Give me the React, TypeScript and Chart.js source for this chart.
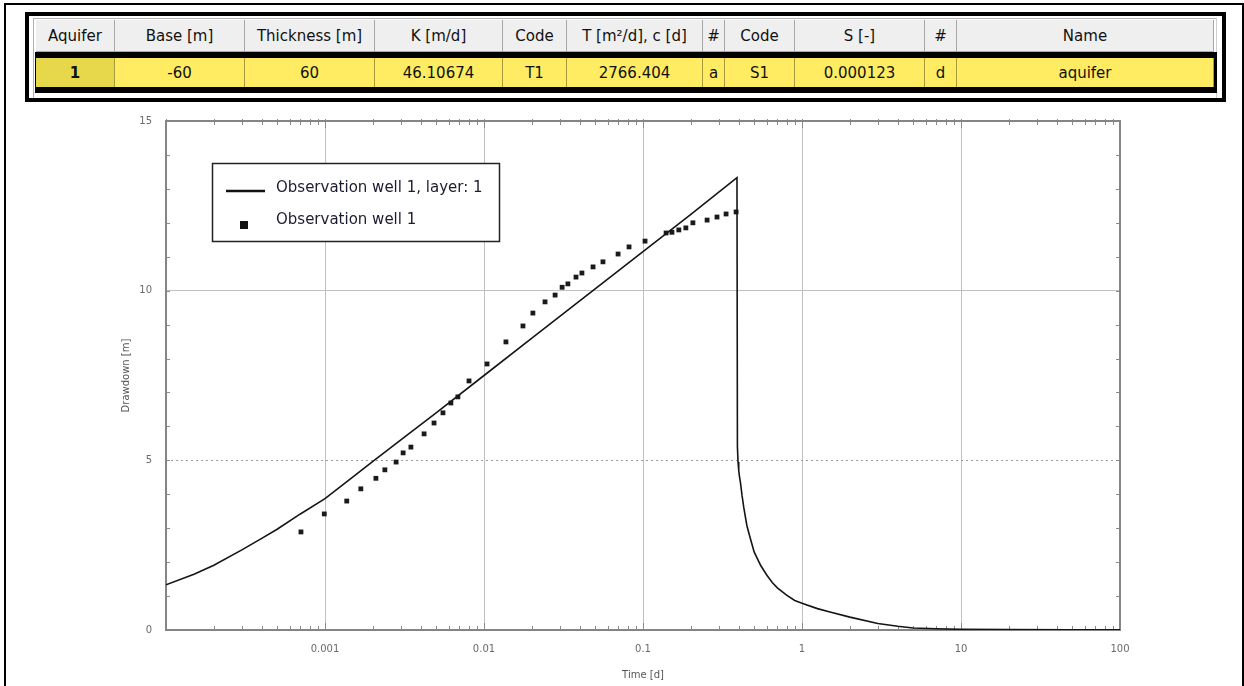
import React, { useEffect, useRef } from 'react';
import { Chart, registerables } from 'chart.js';

Chart.register(...registerables);

const tableHeaders = ['Aquifer', 'Base [m]', 'Thickness [m]', 'K [m/d]', 'Code', 'T [m²/d], c [d]', '#', 'Code', 'S [-]', '#', 'Name'];
const tableRow = ['1', '-60', '60', '46.10674', 'T1', '2766.404', 'a', 'S1', '0.000123', 'd', 'aquifer'];

const seriesLabels = ['Observation well 1, layer: 1', 'Observation well 1'];

const modelTime = [0.0001, 0.00015, 0.0002, 0.0003, 0.0004, 0.0005, 0.0007, 0.001, 0.0015, 0.002, 0.003, 0.005, 0.01, 0.02, 0.05, 0.1, 0.2, 0.39, 0.3925, 0.396, 0.4, 0.405, 0.41, 0.42, 0.43, 0.45, 0.47, 0.5, 0.55, 0.6, 0.65, 0.7, 0.8, 0.9, 1, 1.25, 1.5, 2, 3, 4, 5, 7, 10, 20, 50, 100];
const modelDrawdown = [1.33, 1.64, 1.91, 2.36, 2.7, 2.97, 3.42, 3.87, 4.51, 4.97, 5.6, 6.4, 7.5, 8.6, 10.05, 11.15, 12.25, 13.33, 5.4, 4.95, 4.7, 4.5, 4.35, 3.95, 3.62, 3.08, 2.75, 2.3, 1.9, 1.62, 1.4, 1.24, 1.03, 0.87, 0.79, 0.63, 0.53, 0.38, 0.19, 0.11, 0.06, 0.035, 0.02, 0.012, 0.008, 0.005];

const obsTime = [0.000706, 0.00099, 0.00137, 0.00168, 0.00209, 0.00238, 0.0028, 0.0031, 0.00347, 0.0042, 0.00485, 0.00552, 0.00619, 0.00685, 0.00805, 0.01045, 0.01374, 0.01758, 0.0203, 0.0242, 0.028, 0.031, 0.0337, 0.0379, 0.0413, 0.0485, 0.056, 0.0697, 0.0817, 0.103, 0.1397, 0.152, 0.168, 0.186, 0.206, 0.253, 0.292, 0.333, 0.385];
const obsDrawdown = [2.89, 3.42, 3.8, 4.16, 4.47, 4.72, 4.95, 5.22, 5.39, 5.78, 6.1, 6.4, 6.69, 6.87, 7.34, 7.84, 8.49, 8.96, 9.34, 9.67, 9.87, 10.1, 10.2, 10.4, 10.52, 10.7, 10.85, 11.08, 11.29, 11.46, 11.7, 11.72, 11.79, 11.85, 12.0, 12.08, 12.17, 12.26, 12.32];

const xTickValues = [0.0001, 0.001, 0.01, 0.1, 1, 10, 100];
const xTickLabels = ['', '0.001', '0.01', '0.1', '1', '10', '100'];
const yTickValues = [0, 5, 10, 15];
const yTickLabels = ['0', '5', '10', '15'];

const xTitle = 'Time [d]';
const yTitle = 'Drawdown [m]';

// layout (pixel positions of the grid columns)
const colEdges = [36, 115, 245, 375, 503, 567, 703, 725, 795, 925, 957, 1214];

const FONT = '"DejaVu Sans", Tahoma, sans-serif';

const decorPlugin = {
  id: 'decor',
  beforeDatasetsDraw(chart: any) {
    const { ctx, chartArea: a, scales } = chart;
    const x = scales.x;
    const y = scales.y;
    ctx.save();
    // dotted grid line at 5
    const y5 = Math.round(y.getPixelForValue(5)) + 0.5;
    ctx.strokeStyle = '#9a9a9a';
    ctx.lineWidth = 1;
    ctx.setLineDash([2, 3]);
    ctx.beginPath();
    ctx.moveTo(a.left, y5);
    ctx.lineTo(a.right, y5);
    ctx.stroke();
    ctx.setLineDash([]);
    // minor tick marks
    ctx.strokeStyle = '#8a8a8a';
    ctx.lineWidth = 1;
    ctx.beginPath();
    for (let e = -4; e < 2; e++) {
      for (let m = 1; m < 10; m++) {
        const v = m * Math.pow(10, e);
        const px = Math.round(x.getPixelForValue(v)) + 0.5;
        const len = m === 1 ? 7 : 4;
        ctx.moveTo(px, a.bottom);
        ctx.lineTo(px, a.bottom - len);
        ctx.moveTo(px, a.top - 2);
        ctx.lineTo(px, a.top + len);
      }
    }
    for (let v = 1; v < 15; v++) {
      const py = Math.round(y.getPixelForValue(v)) + 0.5;
      ctx.moveTo(a.left, py);
      ctx.lineTo(a.left + 4, py);
      ctx.moveTo(a.right, py);
      ctx.lineTo(a.right - 4, py);
    }
    ctx.stroke();
    // frame
    ctx.lineWidth = 2;
    ctx.strokeStyle = '#858585';
    ctx.strokeRect(a.left, a.top, a.right - a.left, a.bottom - a.top);
    ctx.restore();
  },
  afterDraw(chart: any) {
    const { ctx, chartArea: a } = chart;
    const bx = a.left + 46;
    const by = a.top + 42;
    const bw = 287;
    const bh = 78;
    ctx.save();
    ctx.fillStyle = '#ffffff';
    ctx.fillRect(bx, by, bw, bh);
    ctx.strokeStyle = '#222';
    ctx.lineWidth = 1.5;
    ctx.strokeRect(bx + 0.5, by + 0.5, bw, bh);
    // line sample
    ctx.strokeStyle = '#111';
    ctx.lineWidth = 2.5;
    ctx.beginPath();
    ctx.moveTo(bx + 14, by + 28);
    ctx.lineTo(bx + 53, by + 28);
    ctx.stroke();
    // square sample
    ctx.fillStyle = '#111';
    ctx.fillRect(bx + 28, by + 58, 8, 8);
    ctx.fillStyle = '#1c1c30';
    ctx.font = '15px ' + FONT;
    ctx.textBaseline = 'middle';
    ctx.textAlign = 'left';
    ctx.fillText(chart.data.datasets[0].label, bx + 64, by + 25);
    ctx.fillText(chart.data.datasets[1].label, bx + 64, by + 57);
    ctx.restore();
  },
};

function ChartCanvas() {
  const ref = useRef<HTMLCanvasElement | null>(null);
  useEffect(() => {
    if (!ref.current) return;
    const chart = new Chart(ref.current, {
      type: 'line',
      data: {
        datasets: [
          {
            label: seriesLabels[0],
            data: modelTime.map((t, i) => ({ x: t, y: modelDrawdown[i] })),
            borderColor: '#151515',
            borderWidth: 1.6,
            pointRadius: 0,
            fill: false,
            tension: 0,
          },
          {
            label: seriesLabels[1],
            data: obsTime.map((t, i) => ({ x: t, y: obsDrawdown[i] })),
            showLine: false,
            pointStyle: 'rect',
            pointRadius: 3.4,
            pointBorderWidth: 0,
            pointBackgroundColor: '#1a1a1a',
            backgroundColor: '#1a1a1a',
            borderColor: '#1a1a1a',
          },
        ],
      } as any,
      options: {
        responsive: false,
        animation: false,
        devicePixelRatio: 1,
        layout: { padding: { left: 0, top: 121, right: 124, bottom: 0 } },
        plugins: { legend: { display: false }, tooltip: { enabled: false } },
        scales: {
          x: {
            type: 'logarithmic',
            min: 0.0001,
            max: 100,
            afterBuildTicks: (s: any) => {
              s.ticks = xTickValues.map((v) => ({ value: v, major: true }));
            },
            afterFit: (s: any) => {
              s.height = 56;
            },
            ticks: {
              autoSkip: false,
              maxRotation: 0,
              padding: 13,
              color: '#6a6a6a',
              font: { size: 10, family: FONT },
              callback: (_v: any, i: number) => xTickLabels[i],
            },
            grid: {
              drawTicks: false,
              lineWidth: 1,
              color: '#c0c0c0',
            },
            border: { display: false },
            title: {
              display: true,
              text: xTitle,
              color: '#555',
              font: { size: 10, family: FONT },
              padding: { top: 0, bottom: 5 },
            },
          },
          y: {
            type: 'linear',
            min: 0,
            max: 15,
            afterBuildTicks: (s: any) => {
              s.ticks = yTickValues.map((v) => ({ value: v }));
            },
            afterFit: (s: any) => {
              s.width = 166;
            },
            ticks: {
              padding: 14,
              color: '#6a6a6a',
              font: { size: 10, family: FONT },
              callback: (_v: any, i: number) => yTickLabels[i],
            },
            grid: {
              drawTicks: false,
              lineWidth: 1,
              color: (c: any) => (c.tick && c.tick.value === 5 ? 'rgba(0,0,0,0)' : '#c0c0c0'),
            },
            border: { display: false },
            title: {
              display: true,
              text: yTitle,
              color: '#555',
              font: { size: 10, family: FONT },
              padding: { top: 120, bottom: 0 },
            },
          },
        },
      } as any,
      plugins: [decorPlugin],
    });
    return () => chart.destroy();
  }, []);
  return <canvas ref={ref} width={1244} height={686} style={{ position: 'absolute', left: 0, top: 0, width: 1244, height: 686 }} />;
}

function DataTable() {
  const cells: any[] = [];
  for (let i = 0; i < tableHeaders.length; i++) {
    const left = colEdges[i];
    const width = colEdges[i + 1] - colEdges[i];
    cells.push(
      <div
        key={'h' + i}
        style={{
          position: 'absolute', left, top: 20, width, height: 32, boxSizing: 'border-box',
          background: '#efefef', borderRight: '1px solid #a8a8a8', borderBottom: '1px solid #a8a8a8',
          display: 'flex', alignItems: 'center', justifyContent: 'center',
          font: '15px ' + FONT, color: '#111', whiteSpace: 'nowrap',
        }}
      >
        {tableHeaders[i]}
      </div>
    );
    cells.push(
      <div
        key={'r' + i}
        style={{
          position: 'absolute', left, top: 58, width, height: 29, boxSizing: 'border-box',
          background: i === 0 ? '#e6d84a' : '#ffec62', borderRight: '1px solid #a89c3a',
          display: 'flex', alignItems: 'center', justifyContent: 'center',
          font: (i === 0 ? 'bold ' : '') + '15px ' + FONT, color: '#111', whiteSpace: 'nowrap',
        }}
      >
        {tableRow[i]}
      </div>
    );
  }
  return (
    <>
      <div style={{ position: 'absolute', left: 25, top: 12, width: 1201, height: 90, boxSizing: 'border-box', border: '4px solid #000', background: '#fff' }} />
      <div style={{ position: 'absolute', left: 33, top: 18, width: 1184, height: 80, boxSizing: 'border-box', borderLeft: '1px solid #b0b0b0', borderTop: '1px solid #b0b0b0', borderRight: '1px solid #d0d0d0' }} />
      <div style={{ position: 'absolute', left: 35, top: 52, width: 1182, height: 41, background: '#000' }} />
      {cells}
    </>
  );
}

export default function App() {
  return (
    <div style={{ position: 'fixed', left: 0, top: 0, width: 1244, height: 686, overflow: 'hidden', background: '#fff' }}>
      <ChartCanvas />
      <div style={{ position: 'absolute', left: 4, top: 3, width: 1240, height: 720, boxSizing: 'border-box', border: '2px solid #000', pointerEvents: 'none' }} />
      <DataTable />
    </div>
  );
}
